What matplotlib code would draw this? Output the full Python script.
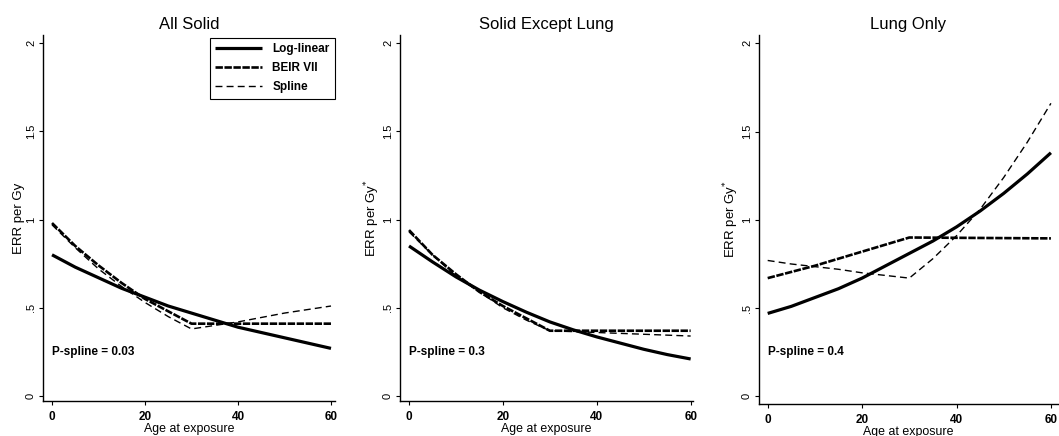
import matplotlib
matplotlib.use("Agg")
import matplotlib.pyplot as plt

plt.rcParams['font.family'] = ['Liberation Sans', 'DejaVu Sans']

# ---------------- data ----------------
titles = ["All Solid", "Solid Except Lung", "Lung Only"]
ylabels = ["ERR per Gy", "ERR per Gy$^{*}$", "ERR per Gy$^{*}$"]
pspline_labels = ["P-spline = 0.03", "P-spline = 0.3", "P-spline = 0.4"]
series_names = ["Log-linear", "BEIR VII", "Spline"]

age_loglin = [0, 5, 10, 15, 20, 25, 30, 35, 40, 45, 50, 55, 60]
loglin_all = [0.80, 0.73, 0.67, 0.61, 0.56, 0.51, 0.47, 0.43, 0.39, 0.36, 0.33, 0.30, 0.27]
loglin_exlung = [0.85, 0.76, 0.675, 0.60, 0.535, 0.475, 0.42, 0.375, 0.335, 0.30, 0.265, 0.235, 0.21]
loglin_lung = [0.47, 0.51, 0.56, 0.61, 0.67, 0.74, 0.81, 0.88, 0.96, 1.05, 1.15, 1.26, 1.38]

age_beir = [0, 5, 10, 15, 20, 25, 30, 60]
beir_all = [0.98, 0.85, 0.74, 0.64, 0.55, 0.48, 0.41, 0.41]
beir_exlung = [0.94, 0.80, 0.69, 0.59, 0.51, 0.44, 0.37, 0.37]
beir_lung = [0.67, 0.705, 0.74, 0.78, 0.82, 0.86, 0.90, 0.895]

age_spline = [0, 5, 10, 15, 20, 25, 30, 35, 40, 45, 50, 55, 60]
spline_all = [0.97, 0.84, 0.72, 0.62, 0.53, 0.45, 0.38, 0.40, 0.42, 0.445, 0.47, 0.49, 0.51]
spline_exlung = [0.93, 0.80, 0.68, 0.59, 0.50, 0.43, 0.37, 0.365, 0.36, 0.355, 0.35, 0.345, 0.34]
spline_lung = [0.77, 0.75, 0.735, 0.72, 0.70, 0.685, 0.67, 0.78, 0.91, 1.06, 1.24, 1.44, 1.66]

x_ticks = [0, 20, 40, 60]
y_ticks = [0, 0.5, 1, 1.5, 2]
y_ticklabels = ["0", ".5", "1", "1.5", "2"]

panels = [
    (loglin_all, beir_all, spline_all),
    (loglin_exlung, beir_exlung, spline_exlung),
    (loglin_lung, beir_lung, spline_lung),
]

# ---------------- layout ----------------
W, H = 1059, 436
fig = plt.figure(figsize=(W / 100, H / 100), dpi=100)

# pixel boxes: left, right, top, bottom
boxes = [(43, 335, 35, 401), (400, 693, 35, 401), (759, 1058, 35, 404)]
xlims = [(-1.94, 60.86), (-1.92, 60.5), (-1.84, 61.5)]
ylims = [(-0.028, 2.045), (-0.028, 2.045), (-0.043, 2.047)]

for i, (l, r, t, b) in enumerate(boxes):
    ax = fig.add_axes([l / W, (H - b) / H, (r - l) / W, (b - t) / H])
    ll, be, sp = panels[i]
    h1, = ax.plot(age_loglin, ll, color='black', lw=2.3, solid_capstyle='butt')
    h2, = ax.plot(age_beir, be, color='black', lw=1.9, dashes=(2.8, 0.6))
    h3, = ax.plot(age_spline, sp, color='black', lw=1.0, dashes=(5, 3))
    ax.set_xlim(*xlims[i])
    ax.set_ylim(*ylims[i])
    for s in ['top', 'right']:
        ax.spines[s].set_visible(False)
    for s in ['left', 'bottom']:
        ax.spines[s].set_linewidth(1.0)
    ax.set_xticks(x_ticks)
    ax.set_xticklabels([str(v) for v in x_ticks], fontsize=8.5, fontweight='bold')
    ax.set_yticks(y_ticks)
    ax.set_yticklabels(y_ticklabels, fontsize=8, rotation=90, va='center')
    ax.tick_params(axis='x', direction='out', length=3, width=0.8, pad=4)
    ax.tick_params(axis='y', direction='out', length=3, width=0.8, pad=2)
    ax.set_xlabel("Age at exposure", fontsize=8.9, labelpad=0)
    ax.set_ylabel(ylabels[i], fontsize=9.5, labelpad=1)
    ax.set_title(titles[i], fontsize=12, pad=4.5)
    ax.text(0, 0.25, pspline_labels[i], fontsize=8.5, fontweight='bold',
            ha='left', va='center')
    if i == 0:
        leg = ax.legend([h1, h2, h3], series_names, loc='upper right',
                        bbox_to_anchor=(1.0, (b - 38) / (b - t)),
                        prop={'weight': 'bold', 'size': 8.5},
                        frameon=True, fancybox=False, edgecolor='black',
                        framealpha=1, handlelength=4.0, handletextpad=0.85,
                        labelspacing=0.6, borderpad=0.45, borderaxespad=0)
        leg.get_frame().set_linewidth(0.8)

fig.savefig("out.png", dpi=100)
